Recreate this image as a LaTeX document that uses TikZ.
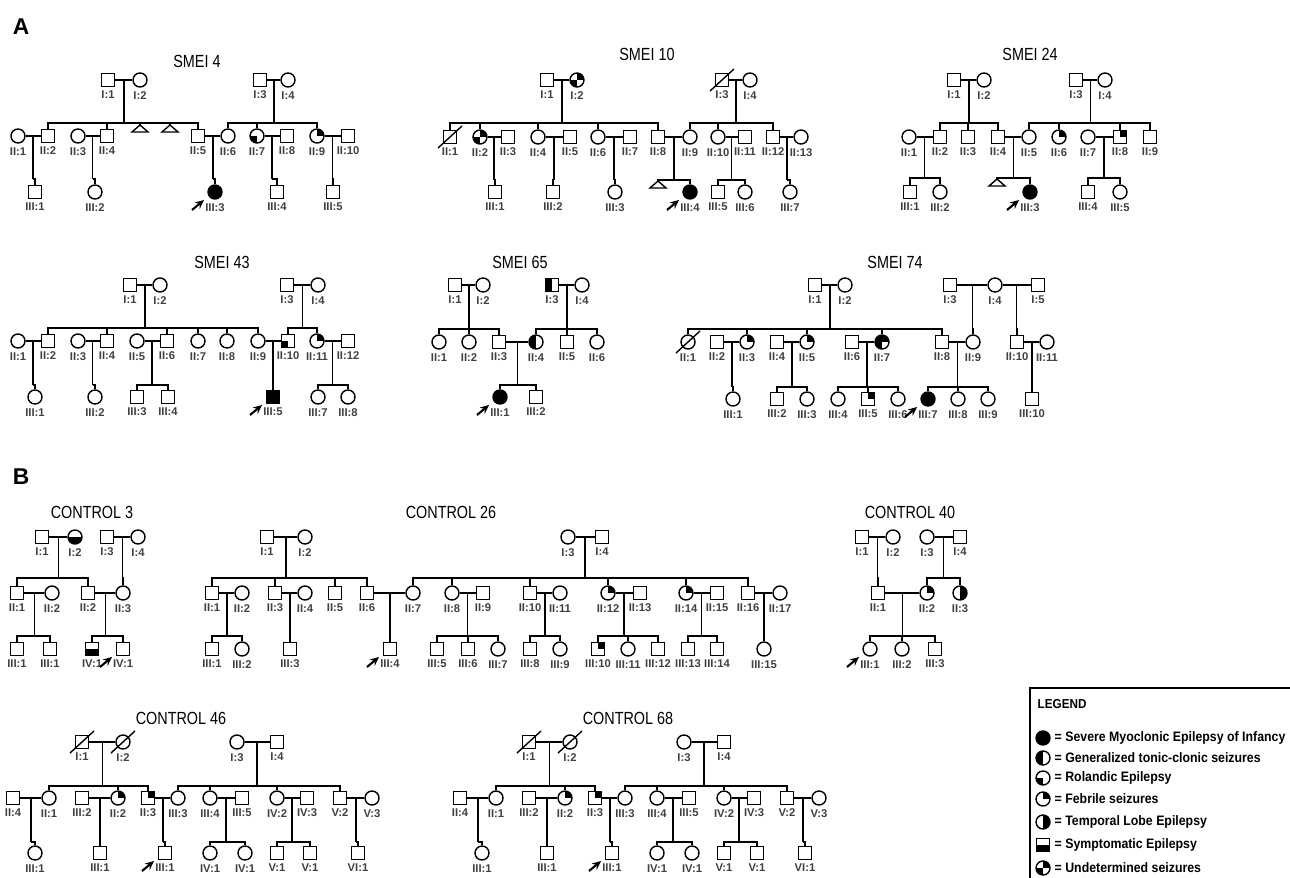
\documentclass[tikz,border=0pt]{standalone}
\usepackage{fontspec}
\setmainfont{Liberation Sans}
\newfontfamily\ttlfont{Liberation Sans}[FakeStretch=0.82]
\newfontfamily\legfont{Liberation Sans}[FakeStretch=0.9]
\usetikzlibrary{arrows.meta,calc}

% pedigree helpers
\newcommand{\indiv}[5]{\node[#4,label={[lbl]below:#5}] (#1) at (#2,#3) {};}
\newcommand{\couple}[3]{\draw (#1) -- (#2); \coordinate (#3) at ($(#1)!0.5!(#2)$);}
\newcommand{\kids}[3]{%
  \draw (#1) -- (#1 |- 0,#2);
  \foreach \k in {#3} {\draw (#1 |- 0,#2) -- (\k |- 0,#2) -- (\k);}}
\newcommand{\dead}[1]{\draw ([shift={(-12,11)}]#1.center) -- ([shift={(12,-11)}]#1.center);}
\newcommand{\proband}[1]{\draw[arr] ([shift={(-23,18)}]#1.center) -- ([shift={(-11,8)}]#1.center);}
\newcommand{\loss}[3]{\coordinate (#1) at (#2,#3); \draw (#1) -- ++(-8,7) -- ++(16,0) -- cycle;}

% the two look-alike control families
\newcommand{\ctrlped}[2]{%
  \node[ttl] (#1T) at (181,718) {#2};
  \indiv{#1i1}{82}{742}{m}{I:1} \indiv{#1i2}{123}{742}{f}{I:2}
  \indiv{#1i3}{237}{742}{f}{I:3} \indiv{#1i4}{277}{742}{m}{I:4}
  \dead{#1i1} \dead{#1i2}
  \couple{#1i1}{#1i2}{#1c1} \couple{#1i3}{#1i4}{#1c2}
  \indiv{#1a}{13}{798}{m}{II:4} \indiv{#1b}{49}{798}{f}{II:1}
  \indiv{#1c}{82}{798}{m}{III:2} \indiv{#1d}{118}{798}{f,fs}{II:2}
  \indiv{#1e}{148}{798}{m,fs}{II:3} \indiv{#1f}{178}{798}{f}{III:3}
  \indiv{#1g}{210}{798}{f}{III:4} \indiv{#1h}{242}{798}{m}{III:5}
  \indiv{#1j}{277}{798}{f}{IV:2} \indiv{#1k}{307}{798}{m}{IV:3}
  \indiv{#1l}{340}{798}{m}{V:2} \indiv{#1n}{372}{798}{f}{V:3}
  \kids{#1c1}{786}{#1b,#1d,#1e}
  \kids{#1c2}{786}{#1f,#1g,#1j,#1l}
  \couple{#1a}{#1b}{#1c3} \couple{#1c}{#1d}{#1c4} \couple{#1e}{#1f}{#1c5}
  \couple{#1g}{#1h}{#1c6} \couple{#1j}{#1k}{#1c7} \couple{#1l}{#1n}{#1c8}
  \indiv{#1p1}{35}{853}{f}{III:1} \indiv{#1p2}{100}{853}{m}{III:1}
  \indiv{#1p3}{165}{853}{m}{III:1} \indiv{#1p4}{210}{853}{f}{IV:1}
  \indiv{#1p5}{245}{853}{f}{IV:1} \indiv{#1p6}{277}{853}{m}{V:1}
  \indiv{#1p7}{310}{853}{m}{V:1} \indiv{#1p8}{358}{853}{m}{VI:1}
  \kids{#1c3}{842}{#1p1} \kids{#1c4}{842}{#1p2} \kids{#1c5}{842}{#1p3}
  \kids{#1c6}{842}{#1p4,#1p5} \kids{#1c7}{842}{#1p6,#1p7} \kids{#1c8}{842}{#1p8}
  \proband{#1p3}}

\begin{document}
\begin{tikzpicture}[x=0.02cm, y=-0.02cm, line width=0.8pt, label distance=1.2pt,
    m/.style={draw, rectangle, minimum size=0.25cm, inner sep=0pt, fill=white},
    f/.style={draw, circle, minimum size=0.28cm, inner sep=0pt, fill=white},
    smei/.style={fill=black},
    gtc/.style={path picture={\fill[black] (path picture bounding box.south west) rectangle (path picture bounding box.north);}},
    tle/.style={path picture={\fill[black] (path picture bounding box.south) rectangle (path picture bounding box.north east);}},
    fs/.style={path picture={\fill[black] (path picture bounding box.center) rectangle (path picture bounding box.north east);}},
    rol/.style={path picture={\fill[black] (path picture bounding box.south west) rectangle (path picture bounding box.center);}},
    sympt/.style={path picture={\fill[black] (path picture bounding box.south west) rectangle (path picture bounding box.east);}},
    und/.style={path picture={\fill[black] (path picture bounding box.center) rectangle (path picture bounding box.north east);
      \fill[black] (path picture bounding box.south west) rectangle (path picture bounding box.center);}},
    mix/.style={path picture={\fill[black] (path picture bounding box.south west) rectangle (path picture bounding box.north);
      \fill[black] (path picture bounding box.center) rectangle (path picture bounding box.north east);}},
    lbl/.style={font=\bfseries\fontsize{6.4}{7}\selectfont, text=black!75, inner sep=0.5pt},
    ttl/.style={font=\ttlfont\fontsize{10}{12}\selectfont},
    panel/.style={font=\bfseries\fontsize{13}{15}\selectfont},
    leg/.style={anchor=west, inner sep=0pt, font=\legfont\bfseries\fontsize{7.8}{9}\selectfont},
    arr/.style={-{Stealth[length=5pt,width=4.5pt]}, line width=1.2pt}]
  \useasboundingbox (0,0) rectangle (1290,878);

  \node[panel] (pA) at (21,27) {A};
  \node[panel] (pB) at (21,477) {B};

  % SMEI 4
  \node[ttl] (aT) at (197,61) {SMEI 4};
  \indiv{ai1}{108}{80}{m}{I:1} \indiv{ai2}{140}{80}{f}{I:2}
  \indiv{ai3}{260}{80}{m}{I:3} \indiv{ai4}{288}{80}{f}{I:4}
  \couple{ai1}{ai2}{ac1} \couple{ai3}{ai4}{ac2}
  \indiv{aii1}{18}{136}{f}{II:1} \indiv{aii2}{48}{136}{m}{II:2}
  \indiv{aii3}{78}{136}{f}{II:3} \indiv{aii4}{107}{136}{m}{II:4}
  \loss{at1}{140}{125} \loss{at2}{170}{125}
  \indiv{aii5}{198}{136}{m}{II:5} \indiv{aii6}{228}{136}{f}{II:6}
  \indiv{aii7}{257}{136}{f,rol}{II:7} \indiv{aii8}{287}{136}{m}{II:8}
  \indiv{aii9}{317}{136}{f,fs}{II:9} \indiv{aii10}{348}{136}{m}{II:10}
  \kids{ac1}{123}{aii2,aii4,at1,at2,aii5}
  \kids{ac2}{123}{aii6,aii7,aii9}
  \couple{aii1}{aii2}{ac3} \couple{aii3}{aii4}{ac4} \couple{aii5}{aii6}{ac5}
  \couple{aii7}{aii8}{ac6} \couple{aii9}{aii10}{ac7}
  \indiv{aiii1}{35}{192}{m}{III:1} \indiv{aiii2}{95}{192}{f}{III:2}
  \indiv{aiii3}{215}{192}{f,smei}{III:3} \indiv{aiii4}{277}{192}{m}{III:4}
  \indiv{aiii5}{333}{192}{m}{III:5}
  \kids{ac3}{179}{aiii1} \kids{ac4}{179}{aiii2} \kids{ac5}{179}{aiii3}
  \kids{ac6}{179}{aiii4} \kids{ac7}{179}{aiii5}
  \proband{aiii3}

  % SMEI 10
  \node[ttl] (bT) at (647,54) {SMEI 10};
  \indiv{bi1}{547}{80}{m}{I:1} \indiv{bi2}{577}{80}{f,und}{I:2}
  \indiv{bi3}{722}{80}{m}{I:3} \indiv{bi4}{750}{80}{f}{I:4}
  \dead{bi3}
  \couple{bi1}{bi2}{bc1} \couple{bi3}{bi4}{bc2}
  \indiv{bii1}{450}{137}{m}{II:1} \indiv{bii2}{480}{137}{f,und}{II:2}
  \indiv{bii3}{508}{137}{m}{II:3} \indiv{bii4}{538}{137}{f}{II:4}
  \indiv{bii5}{570}{137}{m}{II:5} \indiv{bii6}{598}{137}{f}{II:6}
  \indiv{bii7}{630}{137}{m}{II:7} \indiv{bii8}{658}{137}{m}{II:8}
  \indiv{bii9}{690}{137}{f}{II:9} \indiv{bii10}{718}{137}{f}{II:10}
  \indiv{bii11}{745}{137}{m}{II:11} \indiv{bii12}{773}{137}{m}{II:12}
  \indiv{bii13}{801}{137}{f}{II:13}
  \dead{bii1}
  \kids{bc1}{123}{bii1,bii2,bii4,bii6,bii8}
  \kids{bc2}{123}{bii9,bii10,bii12}
  \couple{bii2}{bii3}{bc3} \couple{bii4}{bii5}{bc4} \couple{bii6}{bii7}{bc5}
  \couple{bii8}{bii9}{bc6} \couple{bii10}{bii11}{bc7} \couple{bii12}{bii13}{bc8}
  \indiv{biii1}{495}{192}{m}{III:1} \indiv{biii2}{553}{192}{m}{III:2}
  \indiv{biii3}{615}{192}{f}{III:3} \loss{bt1}{658}{181}
  \indiv{biii4}{690}{192}{f,smei}{III:4} \indiv{biii5}{718}{192}{m}{III:5}
  \indiv{biii6}{745}{192}{f}{III:6} \indiv{biii7}{790}{192}{f}{III:7}
  \kids{bc3}{180}{biii1} \kids{bc4}{180}{biii2} \kids{bc5}{180}{biii3}
  \kids{bc6}{180}{bt1,biii4} \kids{bc7}{180}{biii5,biii6} \kids{bc8}{180}{biii7}
  \proband{biii4}

  % SMEI 24
  \node[ttl] (cT) at (1030,54) {SMEI 24};
  \indiv{ci1}{954}{80}{m}{I:1} \indiv{ci2}{984}{80}{f}{I:2}
  \indiv{ci3}{1076}{80}{m}{I:3} \indiv{ci4}{1105}{80}{f}{I:4}
  \couple{ci1}{ci2}{cc1} \couple{ci3}{ci4}{cc2}
  \indiv{cii1}{909}{137}{f}{II:1} \indiv{cii2}{940}{137}{m}{II:2}
  \indiv{cii3}{968}{137}{m}{II:3} \indiv{cii4}{998}{137}{m}{II:4}
  \indiv{cii5}{1029}{137}{f}{II:5} \indiv{cii6}{1059}{137}{f,fs}{II:6}
  \indiv{cii7}{1088}{137}{f}{II:7} \indiv{cii8}{1120}{137}{m,fs}{II:8}
  \indiv{cii9}{1150}{137}{m}{II:9}
  \kids{cc1}{123}{cii2,cii3,cii4}
  \kids{cc2}{123}{cii5,cii6,cii8,cii9}
  \couple{cii1}{cii2}{cc3} \couple{cii4}{cii5}{cc4} \couple{cii7}{cii8}{cc5}
  \indiv{ciii1}{910}{192}{m}{III:1} \indiv{ciii2}{940}{192}{f}{III:2}
  \loss{ct1}{997}{179} \indiv{ciii3}{1030}{192}{f,smei}{III:3}
  \indiv{ciii4}{1088}{192}{m}{III:4} \indiv{ciii5}{1120}{192}{f}{III:5}
  \kids{cc3}{178}{ciii1,ciii2} \kids{cc4}{178}{ct1,ciii3} \kids{cc5}{178}{ciii4,ciii5}
  \proband{ciii3}

  % SMEI 43
  \node[ttl] (dT) at (222,262) {SMEI 43};
  \indiv{di1}{130}{285}{m}{I:1} \indiv{di2}{160}{285}{f}{I:2}
  \indiv{di3}{287}{285}{m}{I:3} \indiv{di4}{318}{285}{f}{I:4}
  \couple{di1}{di2}{dc1} \couple{di3}{di4}{dc2}
  \indiv{dii1}{18}{341}{f}{II:1} \indiv{dii2}{48}{341}{m}{II:2}
  \indiv{dii3}{78}{341}{f}{II:3} \indiv{dii4}{107}{341}{m}{II:4}
  \indiv{dii5}{137}{341}{f}{II:5} \indiv{dii6}{167}{341}{m}{II:6}
  \indiv{dii7}{198}{341}{f}{II:7} \indiv{dii8}{227}{341}{f}{II:8}
  \indiv{dii9}{258}{341}{f}{II:9} \indiv{dii10}{288}{341}{m,rol}{II:10}
  \indiv{dii11}{317}{341}{f,fs}{II:11} \indiv{dii12}{348}{341}{m}{II:12}
  \kids{dc1}{328}{dii2,dii4,dii6,dii7,dii8,dii9}
  \kids{dc2}{328}{dii10,dii11}
  \couple{dii1}{dii2}{dc3} \couple{dii3}{dii4}{dc4} \couple{dii5}{dii6}{dc5}
  \couple{dii9}{dii10}{dc6} \couple{dii11}{dii12}{dc7}
  \indiv{diii1}{35}{397}{f}{III:1} \indiv{diii2}{95}{397}{f}{III:2}
  \indiv{diii3}{137}{397}{m}{III:3} \indiv{diii4}{168}{397}{m}{III:4}
  \indiv{diii5}{273}{397}{m,smei}{III:5} \indiv{diii7}{318}{397}{f}{III:7}
  \indiv{diii8}{348}{397}{f}{III:8}
  \kids{dc3}{385}{diii1} \kids{dc4}{385}{diii2} \kids{dc5}{385}{diii3,diii4}
  \kids{dc6}{385}{diii5} \kids{dc7}{385}{diii7,diii8}
  \proband{diii5}

  % SMEI 65
  \node[ttl] (eT) at (520,262) {SMEI 65};
  \indiv{ei1}{455}{285}{m}{I:1} \indiv{ei2}{483}{285}{f}{I:2}
  \indiv{ei3}{552}{285}{m,gtc}{I:3} \indiv{ei4}{582}{285}{f}{I:4}
  \couple{ei1}{ei2}{ec1} \couple{ei3}{ei4}{ec2}
  \indiv{eii1}{439}{342}{f}{II:1} \indiv{eii2}{469}{342}{f}{II:2}
  \indiv{eii3}{499}{342}{m}{II:3} \indiv{eii4}{536}{342}{f,gtc}{II:4}
  \indiv{eii5}{567}{342}{m}{II:5} \indiv{eii6}{597}{342}{f}{II:6}
  \kids{ec1}{329}{eii1,eii2,eii3} \kids{ec2}{329}{eii4,eii5,eii6}
  \couple{eii3}{eii4}{ec3}
  \indiv{eiii1}{500}{397}{f,smei}{III:1} \indiv{eiii2}{536}{397}{m}{III:2}
  \kids{ec3}{385}{eiii1,eiii2}
  \proband{eiii1}

  % SMEI 74
  \node[ttl] (gT) at (895,262) {SMEI 74};
  \indiv{gi1}{815}{285}{m}{I:1} \indiv{gi2}{845}{285}{f}{I:2}
  \indiv{gi3}{950}{285}{m}{I:3} \indiv{gi4}{995}{285}{f}{I:4}
  \indiv{gi5}{1038}{285}{m}{I:5}
  \couple{gi1}{gi2}{gc1} \couple{gi3}{gi4}{gc2} \couple{gi4}{gi5}{gc3}
  \indiv{gii1}{688}{342}{f}{II:1} \indiv{gii2}{717}{342}{m}{II:2}
  \indiv{gii3}{747}{342}{f,fs}{II:3} \indiv{gii4}{777}{342}{m}{II:4}
  \indiv{gii5}{807}{342}{f,fs}{II:5} \indiv{gii6}{852}{342}{m}{II:6}
  \indiv{gii7}{882}{342}{f,mix}{II:7} \indiv{gii8}{942}{342}{m}{II:8}
  \indiv{gii9}{973}{342}{f}{II:9} \indiv{gii10}{1017}{342}{m}{II:10}
  \indiv{gii11}{1047}{342}{f}{II:11}
  \dead{gii1}
  \kids{gc1}{329}{gii1,gii3,gii5,gii7,gii8}
  \kids{gc2}{329}{gii9} \kids{gc3}{329}{gii10}
  \couple{gii2}{gii3}{gc4} \couple{gii4}{gii5}{gc5} \couple{gii6}{gii7}{gc6}
  \couple{gii8}{gii9}{gc7} \couple{gii10}{gii11}{gc8}
  \indiv{giii1}{733}{399}{f}{III:1} \indiv{giii2}{777}{399}{m}{III:2}
  \indiv{giii3}{807}{399}{f}{III:3} \indiv{giii4}{838}{399}{f}{III:4}
  \indiv{giii5}{868}{399}{m,fs}{III:5} \indiv{giii6}{898}{399}{f}{III:6}
  \indiv{giii7}{928}{399}{f,smei}{III:7} \indiv{giii8}{958}{399}{f}{III:8}
  \indiv{giii9}{988}{399}{f}{III:9} \indiv{giii10}{1032}{399}{m}{III:10}
  \kids{gc4}{387}{giii1} \kids{gc5}{387}{giii2,giii3}
  \kids{gc6}{387}{giii4,giii5,giii6} \kids{gc7}{387}{giii7,giii8,giii9}
  \kids{gc8}{387}{giii10}
  \proband{giii7}

  % CONTROL 3
  \node[ttl] (pT) at (92,512) {CONTROL 3};
  \indiv{pi1}{42}{537}{m}{I:1} \indiv{pi2}{75}{537}{f,sympt}{I:2}
  \indiv{pi3}{107}{537}{m}{I:3} \indiv{pi4}{138}{537}{f}{I:4}
  \couple{pi1}{pi2}{pc1} \couple{pi3}{pi4}{pc2}
  \indiv{pii1}{17}{593}{m}{II:1} \indiv{pii2}{52}{593}{f}{II:2}
  \indiv{pii3}{88}{593}{m}{II:2} \indiv{pii4}{123}{593}{f}{II:3}
  \kids{pc1}{578}{pii1,pii3} \kids{pc2}{578}{pii4}
  \couple{pii1}{pii2}{pc3} \couple{pii3}{pii4}{pc4}
  \indiv{piii1}{17}{649}{m}{III:1} \indiv{piii2}{50}{649}{m}{III:1}
  \indiv{piii3}{92}{649}{m,sympt}{IV:1} \indiv{piii4}{123}{649}{m}{IV:1}
  \kids{pc3}{636}{piii1,piii2} \kids{pc4}{636}{piii3,piii4}
  \proband{piii4}

  % CONTROL 26
  \node[ttl] (qT) at (451,512) {CONTROL 26};
  \indiv{qi1}{267}{537}{m}{I:1} \indiv{qi2}{305}{537}{f}{I:2}
  \indiv{qi3}{568}{537}{f}{I:3} \indiv{qi4}{602}{537}{m}{I:4}
  \couple{qi1}{qi2}{qc1} \couple{qi3}{qi4}{qc2}
  \indiv{qii1}{212}{593}{m}{II:1} \indiv{qii2}{242}{593}{f}{II:2}
  \indiv{qii3}{275}{593}{m}{II:3} \indiv{qii4}{305}{593}{f}{II:4}
  \indiv{qii5}{335}{593}{m}{II:5} \indiv{qii6}{367}{593}{m}{II:6}
  \indiv{qii7}{413}{593}{f}{II:7} \indiv{qii8}{452}{593}{f}{II:8}
  \indiv{qii9}{483}{593}{m}{II:9} \indiv{qii10}{530}{593}{m}{II:10}
  \indiv{qii11}{560}{593}{f}{II:11} \indiv{qii12}{608}{593}{f,fs}{II:12}
  \indiv{qii13}{640}{593}{m}{II:13} \indiv{qii14}{686}{593}{f,fs}{II:14}
  \indiv{qii15}{717}{593}{m}{II:15} \indiv{qii16}{748}{593}{m}{II:16}
  \indiv{qii17}{780}{593}{f}{II:17}
  \kids{qc1}{578}{qii1,qii3,qii5,qii6}
  \kids{qc2}{578}{qii7,qii8,qii10,qii12,qii14,qii16}
  \couple{qii1}{qii2}{qc3} \couple{qii3}{qii4}{qc4} \couple{qii6}{qii7}{qc5}
  \couple{qii8}{qii9}{qc6} \couple{qii10}{qii11}{qc7} \couple{qii12}{qii13}{qc8}
  \couple{qii14}{qii15}{qc9} \couple{qii16}{qii17}{qc10}
  \indiv{qiii1}{212}{649}{m}{III:1} \indiv{qiii2}{242}{649}{f}{III:2}
  \indiv{qiii3}{290}{649}{m}{III:3} \indiv{qiii4}{390}{649}{m}{III:4}
  \indiv{qiii5}{437}{649}{m}{III:5} \indiv{qiii6}{468}{649}{m}{III:6}
  \indiv{qiii7}{498}{649}{f}{III:7} \indiv{qiii8}{530}{649}{m}{III:8}
  \indiv{qiii9}{560}{649}{f}{III:9} \indiv{qiii10}{598}{649}{m,fs}{III:10}
  \indiv{qiii11}{628}{649}{f}{III:11} \indiv{qiii12}{658}{649}{m}{III:12}
  \indiv{qiii13}{688}{649}{m}{III:13} \indiv{qiii14}{717}{649}{m}{III:14}
  \indiv{qiii15}{764}{649}{f}{III:15}
  \kids{qc3}{636}{qiii1,qiii2} \kids{qc4}{636}{qiii3} \kids{qc5}{636}{qiii4}
  \kids{qc6}{636}{qiii5,qiii6,qiii7} \kids{qc7}{636}{qiii8,qiii9}
  \kids{qc8}{636}{qiii10,qiii11,qiii12} \kids{qc9}{636}{qiii13,qiii14}
  \kids{qc10}{636}{qiii15}
  \proband{qiii4}

  % CONTROL 40
  \node[ttl] (rT) at (910,512) {CONTROL 40};
  \indiv{ri1}{862}{537}{m}{I:1} \indiv{ri2}{893}{537}{f}{I:2}
  \indiv{ri3}{927}{537}{f}{I:3} \indiv{ri4}{960}{537}{m}{I:4}
  \couple{ri1}{ri2}{rc1} \couple{ri3}{ri4}{rc2}
  \indiv{rii1}{878}{593}{m}{II:1} \indiv{rii2}{927}{593}{f,fs}{II:2}
  \indiv{rii3}{960}{593}{f,tle}{II:3}
  \kids{rc1}{578}{rii1} \kids{rc2}{578}{rii2,rii3}
  \couple{rii1}{rii2}{rc3}
  \indiv{riii1}{870}{649}{f}{III:1} \indiv{riii2}{902}{649}{f}{III:2}
  \indiv{riii3}{935}{649}{m}{III:3}
  \kids{rc3}{636}{riii1,riii2,riii3}
  \proband{riii1}

  % CONTROL 46 and CONTROL 68
  \begin{scope}
    \ctrlped{u}{CONTROL 46}
  \end{scope}
  \begin{scope}[shift={(447,0)}]
    \ctrlped{w}{CONTROL 68}
  \end{scope}

  % legend
  \draw[line width=1.3pt] (1030,688) rectangle (1300,895);
  \node[leg, font=\legfont\bfseries\fontsize{7.4}{8}\selectfont] (legT) at (1037,704) {LEGEND};
  \node[f,smei] (k1) at (1043,738) {};   \node[leg] (t1) at (1054,738) {= Severe Myoclonic Epilepsy of Infancy};
  \node[f,gtc] (k2) at (1043,758) {};    \node[leg] (t2) at (1054,758) {= Generalized tonic-clonic seizures};
  \node[f,rol] (k3) at (1043,778) {};    \node[leg] (t3) at (1054,778) {= Rolandic Epilepsy};
  \node[f,fs] (k4) at (1043,799) {};     \node[leg] (t4) at (1054,799) {= Febrile seizures};
  \node[f,tle] (k5) at (1043,822) {};    \node[leg] (t5) at (1054,822) {= Temporal Lobe Epilepsy};
  \node[m,sympt] (k6) at (1043,845) {};  \node[leg] (t6) at (1054,845) {= Symptomatic Epilepsy};
  \node[f,und] (k7) at (1043,868) {};    \node[leg] (t7) at (1054,868) {= Undetermined seizures};
\end{tikzpicture}
\end{document}
